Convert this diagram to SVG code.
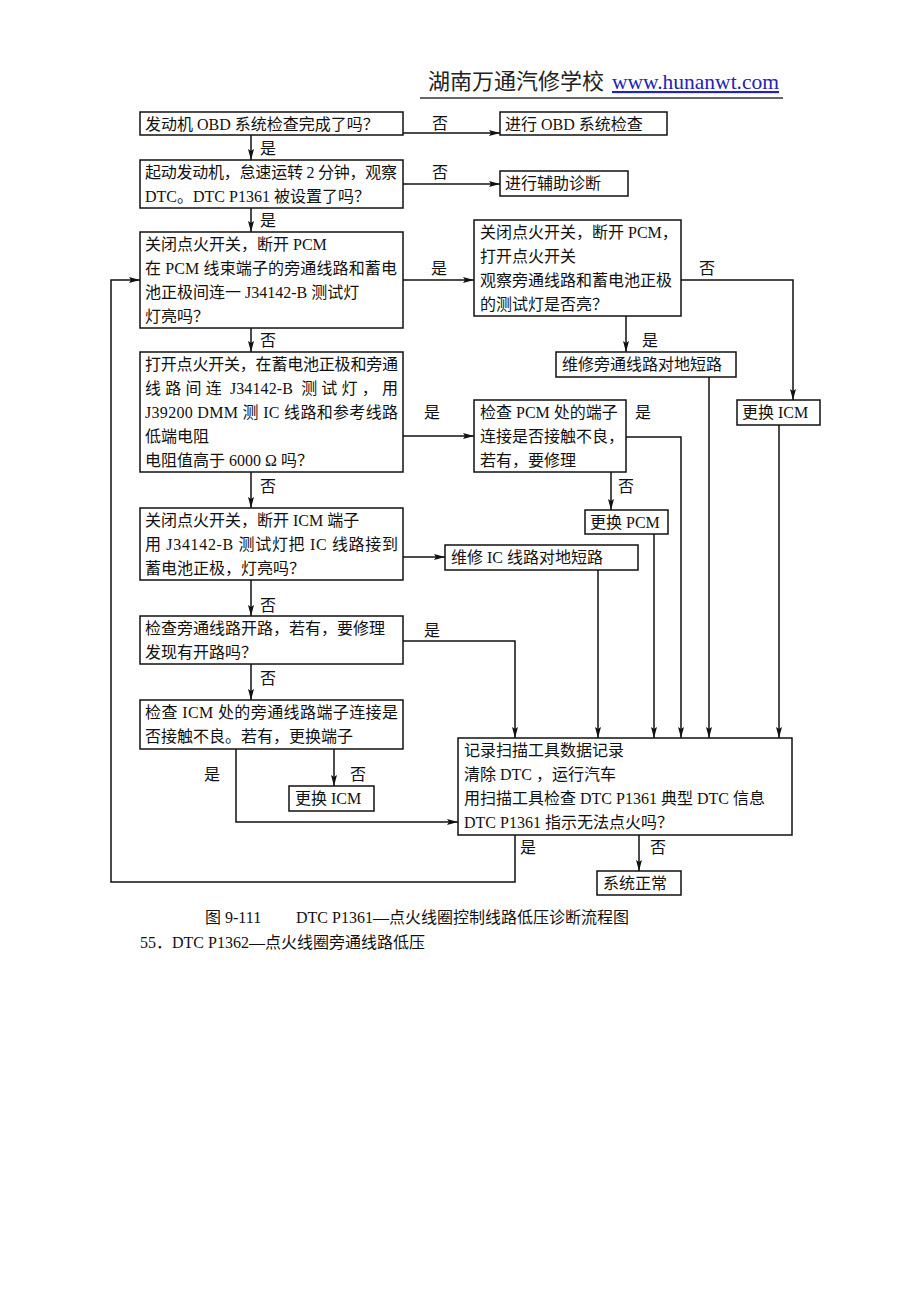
<svg xmlns="http://www.w3.org/2000/svg" width="920" height="1302" viewBox="0 0 920 1302">
<style>
text{font-family:"Liberation Serif","Noto Sans CJK SC",serif;font-size:16px;fill:#111}
.box{fill:#fff;stroke:#111;stroke-width:1.5}
.ln{fill:none;stroke:#111;stroke-width:1.5}
.lab{text-anchor:middle}
.cap{font-size:16px}
</style>
<defs>
<marker id="arr" markerWidth="11" markerHeight="6" refX="11" refY="3" orient="auto" markerUnits="userSpaceOnUse">
<path d="M0,0 L11,3 L0,6 L2,3 z" fill="#111"/>
</marker>
</defs>
<rect width="920" height="1302" fill="#fff"/>

<g id="header">
<text x="428" y="89" style="font-size:22px;fill:#222">湖南万通汽修学校</text>
<text x="612" y="89" style="font-size:21.5px;fill:#2323b8;text-decoration:underline">www.hunanwt.com</text>
<line x1="420" y1="98" x2="783" y2="98" stroke="#333" stroke-width="1.5"/>
</g>

<g id="connectors">
<path class="ln" d="M403,133 H500" marker-end="url(#arr)"/>
<path class="ln" d="M251,135 V160" marker-end="url(#arr)"/>
<path class="ln" d="M403,184 H500" marker-end="url(#arr)"/>
<path class="ln" d="M251,208 V232" marker-end="url(#arr)"/>
<path class="ln" d="M403,280 H474" marker-end="url(#arr)"/>
<path class="ln" d="M681,280 H793 V400" marker-end="url(#arr)"/>
<path class="ln" d="M626,316 V352" marker-end="url(#arr)"/>
<path class="ln" d="M709,377 V738" marker-end="url(#arr)"/>
<path class="ln" d="M779,425 V738" marker-end="url(#arr)"/>
<path class="ln" d="M251,328 V352" marker-end="url(#arr)"/>
<path class="ln" d="M403,436 H474" marker-end="url(#arr)"/>
<path class="ln" d="M626,437 H681 V738" marker-end="url(#arr)"/>
<path class="ln" d="M611,472 V510" marker-end="url(#arr)"/>
<path class="ln" d="M654,534 V738" marker-end="url(#arr)"/>
<path class="ln" d="M251,472 V508" marker-end="url(#arr)"/>
<path class="ln" d="M403,557 H445" marker-end="url(#arr)"/>
<path class="ln" d="M598,570 V738" marker-end="url(#arr)"/>
<path class="ln" d="M251,580 V616" marker-end="url(#arr)"/>
<path class="ln" d="M403,641 H515 V738" marker-end="url(#arr)"/>
<path class="ln" d="M251,664 V700" marker-end="url(#arr)"/>
<path class="ln" d="M334,749 V786" marker-end="url(#arr)"/>
<path class="ln" d="M236,749 V822 H458" marker-end="url(#arr)"/>
<path class="ln" d="M639,835 V871" marker-end="url(#arr)"/>
<path class="ln" d="M515,835 V882 H111 V280 H140" marker-end="url(#arr)"/>
<g id="labels">
<text class="lab" x="440" y="129">否</text>
<text class="lab" x="268" y="154">是</text>
<text class="lab" x="440" y="178">否</text>
<text class="lab" x="268" y="226">是</text>
<text class="lab" x="439" y="274">是</text>
<text class="lab" x="707" y="274">否</text>
<text class="lab" x="650" y="346">是</text>
<text class="lab" x="268" y="346">否</text>
<text class="lab" x="432" y="418">是</text>
<text class="lab" x="643" y="418">是</text>
<text class="lab" x="626" y="492">否</text>
<text class="lab" x="268" y="492">否</text>
<text class="lab" x="268" y="611">否</text>
<text class="lab" x="432" y="636">是</text>
<text class="lab" x="268" y="684">否</text>
<text class="lab" x="212" y="780">是</text>
<text class="lab" x="358" y="780">否</text>
<text class="lab" x="528" y="853">是</text>
<text class="lab" x="658" y="853">否</text>
</g>
</g>

<g id="n1">
<rect class="box" x="140" y="112" width="263" height="23"/>
<text x="145" y="130">发动机 OBD 系统检查完成了吗？</text>
</g>
<g id="n_obd">
<rect class="box" x="500" y="112" width="167" height="23"/>
<text x="505" y="130">进行 OBD 系统检查</text>
</g>
<g id="n2">
<rect class="box" x="140" y="160" width="263" height="48"/>
<text x="145" y="178" textLength="252" lengthAdjust="spacing">起动发动机，怠速运转 2 分钟，观察</text>
<text x="145" y="202">DTC。DTC P1361 被设置了吗？</text>
</g>
<g id="n_aux">
<rect class="box" x="500" y="171" width="128" height="25"/>
<text x="505" y="189">进行辅助诊断</text>
</g>
<g id="n3">
<rect class="box" x="140" y="232" width="263" height="96"/>
<text x="145" y="250">关闭点火开关，断开 PCM</text>
<text x="145" y="274" textLength="252" lengthAdjust="spacing">在 PCM 线束端子的旁通线路和蓄电</text>
<text x="145" y="298">池正极间连一 J34142-B 测试灯</text>
<text x="145" y="322">灯亮吗？</text>
</g>
<g id="n4">
<rect class="box" x="474" y="220" width="207" height="96"/>
<text x="480" y="238">关闭点火开关，断开 PCM，</text>
<text x="480" y="262">打开点火开关</text>
<text x="480" y="286">观察旁通线路和蓄电池正极</text>
<text x="480" y="310">的测试灯是否亮？</text>
</g>
<g id="n_bypass">
<rect class="box" x="556" y="352" width="180" height="25"/>
<text x="562" y="370">维修旁通线路对地短路</text>
</g>
<g id="n_icm1">
<rect class="box" x="737" y="400" width="83" height="25"/>
<text x="742" y="418">更换 ICM</text>
</g>
<g id="n5">
<rect class="box" x="140" y="352" width="263" height="120"/>
<text x="145" y="370" textLength="253" lengthAdjust="spacing">打开点火开关，在蓄电池正极和旁通</text>
<text x="145" y="394" textLength="253" lengthAdjust="spacing" xml:space="preserve">线 路 间 连  J34142-B  测 试 灯 ， 用</text>
<text x="145" y="418" textLength="253" lengthAdjust="spacing">J39200 DMM 测 IC 线路和参考线路</text>
<text x="145" y="442">低端电阻</text>
<text x="145" y="466">电阻值高于 6000 Ω 吗？</text>
</g>
<g id="n6">
<rect class="box" x="474" y="400" width="152" height="72"/>
<text x="480" y="418">检查 PCM 处的端子</text>
<text x="480" y="442">连接是否接触不良，</text>
<text x="480" y="466">若有，要修理</text>
</g>
<g id="n_pcm">
<rect class="box" x="585" y="510" width="83" height="24"/>
<text x="590" y="528">更换 PCM</text>
</g>
<g id="n7">
<rect class="box" x="140" y="508" width="263" height="72"/>
<text x="145" y="526">关闭点火开关，断开 ICM 端子</text>
<text x="145" y="550" textLength="253" lengthAdjust="spacing">用 J34142-B 测试灯把 IC 线路接到</text>
<text x="145" y="574">蓄电池正极，灯亮吗？</text>
</g>
<g id="n_ic">
<rect class="box" x="445" y="545" width="193" height="25"/>
<text x="451" y="563">维修 IC 线路对地短路</text>
</g>
<g id="n8">
<rect class="box" x="140" y="616" width="263" height="48"/>
<text x="145" y="634">检查旁通线路开路，若有，要修理</text>
<text x="145" y="658">发现有开路吗？</text>
</g>
<g id="n9">
<rect class="box" x="140" y="700" width="263" height="49"/>
<text x="145" y="718" textLength="253" lengthAdjust="spacing">检查 ICM 处的旁通线路端子连接是</text>
<text x="145" y="742">否接触不良。若有，更换端子</text>
</g>
<g id="n_icm2">
<rect class="box" x="289" y="786" width="85" height="25"/>
<text x="295" y="804">更换 ICM</text>
</g>
<g id="n_rec">
<rect class="box" x="458" y="738" width="334" height="97"/>
<text x="464" y="756">记录扫描工具数据记录</text>
<text x="464" y="780">清除 DTC ，运行汽车</text>
<text x="464" y="804">用扫描工具检查 DTC P1361 典型 DTC 信息</text>
<text x="464" y="828">DTC P1361 指示无法点火吗？</text>
</g>
<g id="n_ok">
<rect class="box" x="597" y="871" width="84" height="24"/>
<text x="603" y="889">系统正常</text>
</g>

<g id="caption">
<text class="cap" x="205" y="923">图 9-111</text>
<text class="cap" x="296" y="923">DTC P1361—点火线圈控制线路低压诊断流程图</text>
<text class="cap" x="140" y="948">55．DTC P1362—点火线圈旁通线路低压</text>
</g>
</svg>
